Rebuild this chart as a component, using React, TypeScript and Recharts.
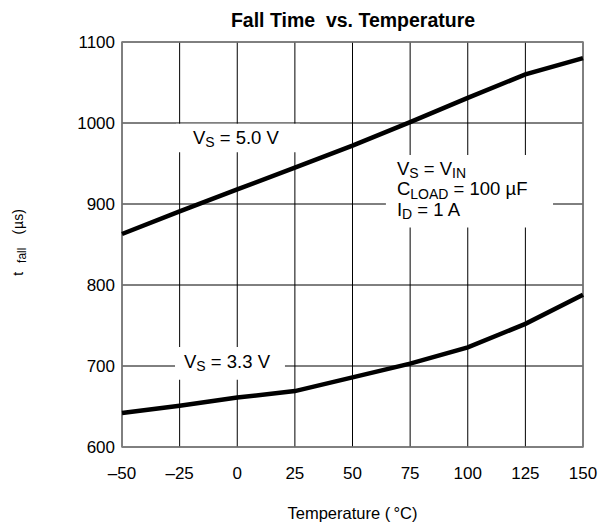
import React from 'react';
import {
  LineChart,
  Line,
  XAxis,
  YAxis,
  CartesianGrid,
  ReferenceArea,
  Customized,
} from 'recharts';

// Temperature (°C) on the x axis
const temps = [-50, -25, 0, 25, 50, 75, 100, 125, 150];
// Fall time (µs)
const fall5v0 = [863, 891, 918, 945, 972, 1001, 1031, 1060, 1080];
const fall3v3 = [642, 651, 661, 669, 686, 703, 723, 752, 788];

const xTicks = [-50, -25, 0, 25, 50, 75, 100, 125, 150];
const yTicks = [600, 700, 800, 900, 1000, 1100];

const data = temps.map((t, i) => ({ t, v50: fall5v0[i], v33: fall3v3[i] }));

type Seg = { t: string; sub?: boolean };

// annotation boxes (data coords) with their text lines
const notes: Array<{ x1: number; x2: number; y1: number; y2: number; padX: number; lines: Seg[][]; baselines: number[] }> = [
  {
    x1: -26.6, x2: 27.2, y1: 964, y2: 999, padX: 17, baselines: [20],
    lines: [[{ t: 'V' }, { t: 'S', sub: true }, { t: ' = 5.0 V' }]],
  },
  {
    x1: -27, x2: 20.7, y1: 683, y2: 723.5, padX: 9, baselines: [21],
    lines: [[{ t: 'V' }, { t: 'S', sub: true }, { t: ' = 3.3 V' }]],
  },
  {
    x1: 64.5, x2: 137, y1: 871, y2: 960.5, padX: 11, baselines: [20, 40.5, 61],
    lines: [
      [{ t: 'V' }, { t: 'S', sub: true }, { t: ' = V' }, { t: 'IN', sub: true }],
      [{ t: 'C' }, { t: 'LOAD', sub: true }, { t: ' = 100 \u00b5F' }],
      [{ t: 'I' }, { t: 'D', sub: true }, { t: ' = 1 A' }],
    ],
  },
];

const FONT = '"Liberation Sans", Arial, sans-serif';

function NoteText({ viewBox, note }: any) {
  if (!viewBox) return null;
  const { x, y } = viewBox;
  return (
    <g>
      {note.lines.map((line: Seg[], li: number) => {
        let shifted = false;
        return (
          <text key={li} x={x + note.padX} y={y + note.baselines[li]} fontSize={18.5} fontFamily={FONT} fill="#000">
            {line.map((s, si) => {
              let dy = 0;
              if (s.sub && !shifted) { dy = 3.5; shifted = true; }
              else if (!s.sub && shifted) { dy = -3.5; shifted = false; }
              return (
                <tspan key={si} dy={dy} fontSize={s.sub ? 14 : 18.5}>
                  {s.t}
                </tspan>
              );
            })}
          </text>
        );
      })}
    </g>
  );
}

function YLabel({ viewBox }: any) {
  const cx = 23;
  const cy = viewBox ? viewBox.y + viewBox.height / 2 - 2 : 242;
  return (
    <text
      x={cx}
      y={cy}
      transform={`rotate(-90 ${cx} ${cy})`}
      textAnchor="middle"
      fontFamily={FONT}
      fontSize={14}
      fill="#000"
    >
      <tspan>t</tspan>
      <tspan dx={9} dy={3} fontSize={12}>fall</tspan>
      <tspan dx={13} dy={-3}>(</tspan>
      <tspan dx={1}>{'\u00b5'}</tspan>
      <tspan>s)</tspan>
    </text>
  );
}

const Title = () => (
  <text x={353} y={27} textAnchor="middle" fontFamily={FONT} fontSize={19.5} fontWeight="bold" fill="#000">
    {'Fall Time\u00a0 vs. Temperature'}
  </text>
);

const fmtX = (v: number) => (v < 0 ? `\u2013${Math.abs(v)}` : `${v}`);

export default function App() {
  return (
    <div style={{ position: 'absolute', left: 0, top: 0, background: '#fff' }}>
      <LineChart
        width={604}
        height={525}
        data={data}
        margin={{ top: 42, right: 21, bottom: 48, left: 62 }}
      >
        <CartesianGrid stroke="#000" strokeWidth={1} />
        <XAxis
          dataKey="t"
          type="number"
          domain={[-50, 150]}
          ticks={xTicks}
          tickFormatter={fmtX}
          height={30}
          tickLine={false}
          tickSize={0}
          tickMargin={20}
          axisLine={false}
          tick={{ fontSize: 17, fill: '#000', fontFamily: FONT }}
          label={{ value: 'Temperature (\u2009\u00b0C)', position: 'insideBottom', offset: -42, fontSize: 16.5, fill: '#000', fontFamily: FONT }}
          interval={0}
        />
        <YAxis
          type="number"
          domain={[600, 1100]}
          ticks={yTicks}
          width={60}
          tickLine={false}
          tickSize={0}
          tickMargin={7}
          axisLine={false}
          tick={{ fontSize: 17, fill: '#000', fontFamily: FONT }}
          label={<YLabel />}
          interval={0}
        />
        {notes.map((n, i) => (
          <ReferenceArea
            key={i}
            x1={n.x1}
            x2={n.x2}
            y1={n.y1}
            y2={n.y2}
            fill="#fff"
            fillOpacity={1}
            stroke="none"
            label={<NoteText note={n} />}
          />
        ))}
        <ReferenceArea x1={-50} x2={150} y1={600} y2={1100} fill="none" stroke="#808080" strokeWidth={1.5} />
        <Line dataKey="v50" type="linear" stroke="#000" strokeWidth={4.5} dot={false} isAnimationActive={false} />
        <Line dataKey="v33" type="linear" stroke="#000" strokeWidth={4.5} dot={false} isAnimationActive={false} />
        <Customized component={Title} />
      </LineChart>
    </div>
  );
}
